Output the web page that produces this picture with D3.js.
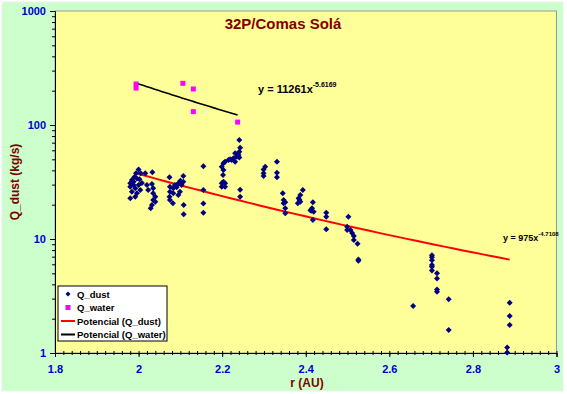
<!DOCTYPE html>
<html>
<head>
<meta charset="utf-8">
<script src="https://cdn.jsdelivr.net/npm/d3@7"></script>
<style>
  body { margin: 0; background: #fff; }
  svg { display: block; font-family: Arial, "Liberation Sans", sans-serif; }
</style>
</head>
<body>
<svg id="chart" width="567" height="394"></svg>
<script>
// Q_dust observations [r (AU), Q (kg/s)]
const dustR = [
  2.000, 1.994, 2.005, 2.016, 2.033, 1.980, 1.988, 1.980, 1.992, 1.984, 1.996, 1.980, 2.000,
  2.004, 1.992, 1.988, 2.020, 2.032, 2.023, 2.035, 2.035, 2.040, 2.035, 2.032, 2.029, 2.040,
  1.984, 1.996, 2.008, 1.990, 2.002,
  2.074, 2.107, 2.075, 2.083, 2.075, 2.074, 2.075, 2.082, 2.095, 2.103, 2.099, 2.095, 2.087,
  2.108, 2.108, 2.083, 2.107, 2.091, 2.100,
  2.155, 2.155, 2.155, 2.155,
  2.203, 2.199, 2.203, 2.202, 2.199, 2.207, 2.199, 2.207, 2.203, 2.207, 2.215, 2.219, 2.227,
  2.235, 2.231, 2.241, 2.239, 2.243, 2.241, 2.223, 2.231, 2.243, 2.243, 2.237, 2.241,
  2.303, 2.299, 2.299, 2.299, 2.331, 2.331, 2.331,
  2.345, 2.347, 2.351, 2.351, 2.351, 2.347,
  2.393, 2.387, 2.383, 2.387, 2.381, 2.385,
  2.417, 2.415, 2.413, 2.419, 2.417, 2.411,
  2.449, 2.449, 2.449,
  2.502, 2.499, 2.499, 2.507, 2.511, 2.515, 2.515, 2.524, 2.526, 2.526,
  2.657, 2.702, 2.702, 2.702, 2.702, 2.702, 2.702, 2.714, 2.714, 2.714, 2.714, 2.742, 2.742,
  2.888, 2.888, 2.888, 2.882, 2.882
];
const dustQ = [
  40.8, 37.7, 37.7, 37.7, 38.5, 30.8, 31.8, 28.8, 27.9, 26.0, 25.2, 22.8, 29.8,
  26.9, 23.5, 29.8, 29.8, 30.4, 26.9, 27.9, 25.2, 23.5, 22.0, 19.9, 18.6, 21.2,
  33.0, 34.0, 31.0, 35.0, 33.5,
  34.8, 35.7, 28.8, 27.9, 26.0, 23.5, 22.0, 20.6, 30.8, 29.8, 26.0, 24.3, 29.8,
  19.9, 16.5, 25.2, 31.8, 28.5, 32.5,
  43.5, 26.9, 20.5, 17.0,
  46.1, 43.1, 40.3, 36.4, 30.8, 30.8, 28.8, 28.8, 31.8, 47.6, 49.3, 50.0, 51.1,
  52.7, 56.5, 58.3, 54.6, 63.2, 74.0, 49.3, 47.6, 27.0, 23.5, 56.0, 52.0,
  43.1, 40.8, 37.7, 35.7, 47.6, 38.2, 34.8,
  25.2, 22.0, 21.0, 18.6, 16.8, 20.6,
  26.9, 24.3, 22.8, 21.2, 20.6, 22.0,
  21.0, 18.6, 17.7, 17.3, 14.7, 17.9,
  17.0, 15.7, 12.2,
  15.7, 12.8, 12.0, 12.0, 11.3, 10.6, 9.8, 9.1, 6.45, 6.6,
  2.58, 7.2, 6.9, 6.5, 5.9, 5.7, 5.3, 5.0, 4.5, 3.6, 3.45, 2.96, 1.59,
  2.76, 2.11, 1.76, 1.12, 1.01
];

// Q_water observations
const waterR = [1.994, 1.994, 2.106, 2.131, 2.131, 2.237];
const waterQ = [229, 211, 232, 207, 131, 106];

// power-law fits  y = a * x^b
const dustFit = { a: 975, b: -4.7108, from: 1.994, to: 2.888 };
const waterFit = { a: 11261, b: -5.6169, from: 1.994, to: 2.237 };

const xTicks = [1.8, 2, 2.2, 2.4, 2.6, 2.8, 3];
const yTicks = [1, 10, 100, 1000];
const legendItems = ["Q_dust", "Q_water", "Potencial (Q_dust)", "Potencial (Q_water)"];

const svg = d3.select("#chart");
const plotL = 55, plotR = 556.5, plotT = 11, plotB = 353;

svg.append("rect")
  .attr("x", 2).attr("y", 2).attr("width", 561).attr("height", 389)
  .attr("fill", "#CCFFCC").attr("stroke", "#e8f4e8");

const x = d3.scaleLinear().domain([1.8, 3]).range([plotL, plotR]);
const y = d3.scaleLog().domain([1, 1000]).range([plotB, plotT]);

svg.append("rect")
  .attr("x", plotL).attr("y", plotT)
  .attr("width", plotR - plotL).attr("height", plotB - plotT)
  .attr("fill", "#FFFF99").attr("stroke", "#999").attr("stroke-width", 1);

// minor ticks
const yMinor = [];
[1, 10, 100].forEach(d => { for (let k = 2; k <= 9; k++) yMinor.push(d * k); });
svg.append("g")
  .attr("transform", `translate(${plotL},0)`)
  .call(d3.axisLeft(y).tickValues(yMinor).tickSize(3).tickFormat(""))
  .call(g => g.select(".domain").remove());

const xMinor = d3.range(0, 61).map(i => 1.8 + i * 0.02);
svg.append("g")
  .attr("transform", `translate(0,${plotB + 2})`)
  .call(d3.axisBottom(x).tickValues(xMinor).tickSize(-4).tickFormat(""))
  .call(g => g.select(".domain").remove());

// major axes
const yAxis = svg.append("g")
  .attr("transform", `translate(${plotL},0)`)
  .call(d3.axisLeft(y).tickValues(yTicks).tickSize(5).tickPadding(4).tickFormat(d3.format("d")));
const xAxis = svg.append("g")
  .attr("transform", `translate(0,${plotB})`)
  .call(d3.axisBottom(x).tickValues(xTicks).tickSize(4).tickPadding(8).tickFormat(d => d));

[yAxis, xAxis].forEach(g => {
  g.select(".domain").attr("stroke", "#000");
  g.selectAll("text")
    .attr("fill", "#0000CC").attr("font-size", 11).attr("font-weight", "bold")
    .style("font-family", "Arial, 'Liberation Sans', sans-serif");
});

// trend lines
function fitLine(fit) {
  const pts = d3.range(0, 41).map(i => {
    const r = fit.from + (fit.to - fit.from) * i / 40;
    return [r, fit.a * Math.pow(r, fit.b)];
  });
  return d3.line().x(d => x(d[0])).y(d => y(d[1]))(pts);
}

svg.append("path").attr("d", fitLine(dustFit))
  .attr("fill", "none").attr("stroke", "#FF0000").attr("stroke-width", 2);
svg.append("path").attr("d", fitLine(waterFit))
  .attr("fill", "none").attr("stroke", "#000").attr("stroke-width", 1.6);

// points: small square diamond like the spreadsheet marker
const diamond = "M0,-3L3,0L0,3L-3,0Z";
svg.append("g").selectAll("path")
  .data(dustR.map((r, i) => [r, dustQ[i]]))
  .join("path")
  .attr("d", diamond)
  .attr("transform", d => `translate(${x(d[0])},${y(d[1])})`)
  .attr("fill", "#000080");

svg.append("g").selectAll("rect")
  .data(waterR.map((r, i) => [r, waterQ[i]]))
  .join("rect")
  .attr("x", d => x(d[0]) - 2.5).attr("y", d => y(d[1]) - 2.5)
  .attr("width", 5).attr("height", 5)
  .attr("fill", "#FF00FF");

// title and axis labels
svg.append("text")
  .attr("x", 283).attr("y", 29).attr("text-anchor", "middle")
  .attr("font-size", 15).attr("font-weight", "bold").attr("fill", "#800000")
  .text("32P/Comas Solá");

svg.append("text")
  .attr("transform", `translate(19,${(plotT + plotB) / 2}) rotate(-90)`)
  .attr("text-anchor", "middle")
  .attr("font-size", 12).attr("font-weight", "bold").attr("fill", "#800000")
  .text("Q_dust (kg/s)");

svg.append("text")
  .attr("x", 307).attr("y", 387).attr("text-anchor", "middle")
  .attr("font-size", 12).attr("font-weight", "bold").attr("fill", "#800000")
  .text("r (AU)");

// equations
const eq1 = svg.append("text").attr("x", 258).attr("y", 93)
  .attr("font-size", 11).attr("font-weight", "bold").attr("fill", "#000");
eq1.append("tspan").text("y = 11261x");
eq1.append("tspan").attr("dy", -6).attr("font-size", 7).text("-5.6169");

const eq2 = svg.append("text").attr("x", 503).attr("y", 241)
  .attr("font-size", 9).attr("font-weight", "bold").attr("fill", "#000");
eq2.append("tspan").text("y = 975x");
eq2.append("tspan").attr("dy", -5).attr("font-size", 6).text("-4.7108");

// legend
const lg = svg.append("g").attr("transform", "translate(58,286)");
lg.append("rect").attr("width", 109).attr("height", 55)
  .attr("fill", "#fff").attr("stroke", "#000").attr("stroke-width", 1);
legendItems.forEach((name, i) => {
  const cy = 8 + i * 13.5;
  if (i === 0) {
    lg.append("path").attr("d", "M0,-2.5L2.5,0L0,2.5L-2.5,0Z").attr("transform", `translate(10,${cy})`).attr("fill", "#000080");
  } else if (i === 1) {
    lg.append("rect").attr("x", 7.5).attr("y", cy - 2.5).attr("width", 5).attr("height", 5).attr("fill", "#FF00FF");
  } else {
    lg.append("line").attr("x1", 3).attr("x2", 17).attr("y1", cy).attr("y2", cy)
      .attr("stroke", i === 2 ? "#FF0000" : "#000").attr("stroke-width", 2);
  }
  lg.append("text").attr("x", 19).attr("y", cy + 3.5)
    .attr("font-size", 9.5).attr("font-weight", "bold").attr("fill", "#000")
    .text(name);
});
</script>
</body>
</html>
